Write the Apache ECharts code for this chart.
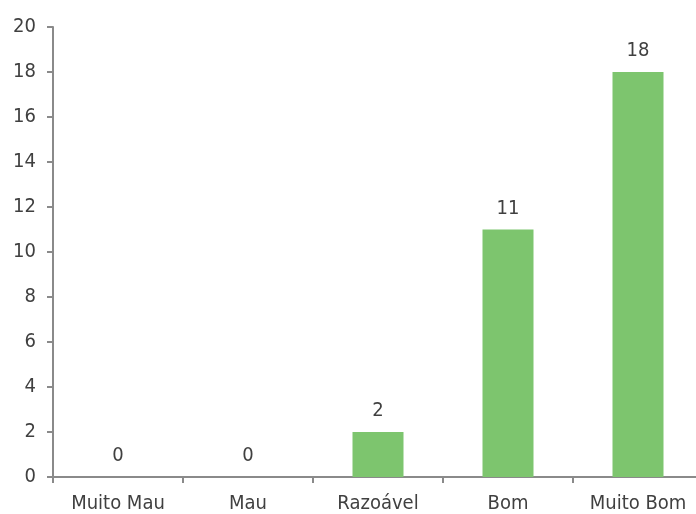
<!DOCTYPE html>
<html><head><meta charset="utf-8">
<script src="https://cdn.jsdelivr.net/npm/echarts@6/dist/echarts.min.js"></script>
<style>html,body{margin:0;padding:0;background:#fff;overflow:hidden}#c{width:710px;height:514px}</style>
</head><body><div id="c"></div>
<script>
const categories = ['Muito Mau', 'Mau', 'Razoável', 'Bom', 'Muito Bom'];
const values = [0, 0, 2, 11, 18];
const yTicks = [0, 2, 4, 6, 8, 10, 12, 14, 16, 18, 20];

const font = '"DejaVu Sans Condensed", "Liberation Sans Narrow", sans-serif';
const chart = echarts.init(document.getElementById('c'), null, {renderer: 'canvas'});
chart.setOption({
  animation: false,
  grid: {left: 53, top: 27, width: 650, bottom: 37, containLabel: false},
  xAxis: {
    type: 'category', data: categories,
    axisLine: {lineStyle: {color: '#8a8a8a', width: 2}},
    axisTick: {show: true, length: 6, lineStyle: {color: '#8a8a8a', width: 2}},
    axisLabel: {color: '#404040', fontSize: 20, fontFamily: font, margin: 17, interval: 0}
  },
  yAxis: {
    type: 'value', min: yTicks[0], max: yTicks[yTicks.length - 1], interval: 2,
    splitLine: {show: false},
    axisLine: {show: true, lineStyle: {color: '#8a8a8a', width: 2}},
    axisTick: {show: true, length: 6, lineStyle: {color: '#8a8a8a', width: 2}},
    axisLabel: {color: '#404040', fontSize: 20, fontFamily: font, margin: 17}
  },
  series: [{
    type: 'bar', data: values, barWidth: 51,
    itemStyle: {color: '#7dc56e'},
    label: {show: true, position: 'top', distance: 11, color: '#404040', fontSize: 20, fontFamily: font}
  }]
});
</script></body></html>
